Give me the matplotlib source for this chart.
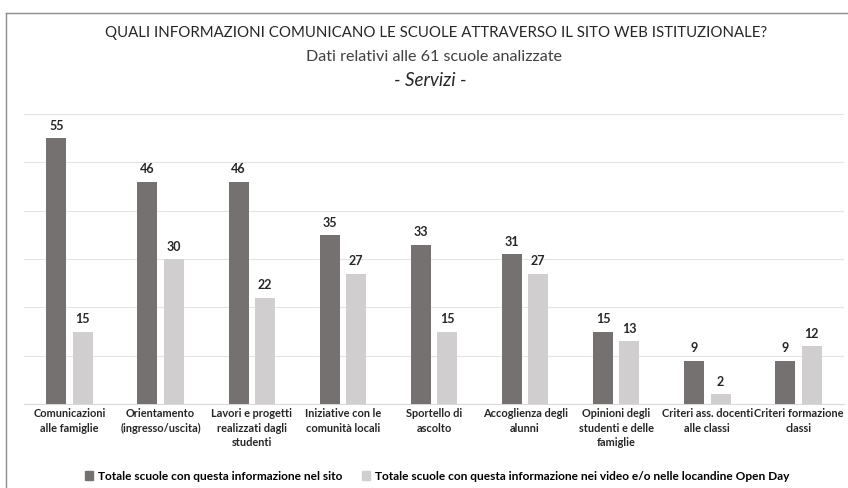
import matplotlib
matplotlib.use("Agg")
import matplotlib.pyplot as plt
from matplotlib.lines import Line2D
from matplotlib.patches import Patch
import numpy as np

categories = [
    "Comunicazioni\nalle famiglie",
    "Orientamento\n(ingresso/uscita)",
    "Lavori e progetti\nrealizzati dagli\nstudenti",
    "Iniziative con le\ncomunità locali",
    "Sportello di\nascolto",
    "Accoglienza degli\nalunni",
    "Opinioni degli\nstudenti e delle\nfamiglie",
    "Criteri ass. docenti\nalle classi",
    "Criteri formazione\nclassi",
]
sito = [55, 46, 46, 35, 33, 31, 15, 9, 9]
openday = [15, 30, 22, 27, 15, 27, 13, 2, 12]
series_names = [
    "Totale scuole con questa informazione nel sito",
    "Totale scuole con questa informazione nei video e/o nelle locandine Open Day",
]

plt.rcParams['font.family'] = ['Lato', 'DejaVu Sans']

W, H = 848, 488
fig = plt.figure(figsize=(W / 100, H / 100), dpi=100)
ax = fig.add_axes([24 / W, 1 - 404 / H, (844 - 24) / W, (404 - 114) / H])

dark = "#767171"
light = "#D0CECE"
x = np.arange(len(categories))
bw = 0.22
off = 0.145
b1 = ax.bar(x - off, sito, bw, color=dark, zorder=3)
b2 = ax.bar(x + off, openday, bw, color=light, zorder=3)

for bars, vals in ((b1, sito), (b2, openday)):
    for r, v in zip(bars, vals):
        ax.annotate(str(v), (r.get_x() + r.get_width() / 2, v), xytext=(0, 4.5),
                    textcoords="offset points", ha="center", va="bottom",
                    fontsize=9, fontweight="bold", color="#262626")

ax.set_xlim(-0.5, len(categories) - 0.5)
ax.set_ylim(0, 60)
ax.set_yticks(np.arange(0, 61, 10))
ax.set_yticklabels([])
ax.tick_params(axis="y", length=0)
ax.grid(axis="y", color="#E3E3E3", linewidth=0.8, zorder=0)
ax.set_xticks(x)
ax.set_xticklabels(categories, fontsize=7.9, fontweight="bold", color="#262626",
                   linespacing=1.4)
ax.tick_params(axis="x", length=0, pad=3)
for s in ("top", "right", "left"):
    ax.spines[s].set_visible(False)
ax.spines["bottom"].set_color("#D9D9D9")

fig.text(436 / W, 1 - 33 / H, "QUALI INFORMAZIONI COMUNICANO LE SCUOLE ATTRAVERSO IL SITO WEB ISTITUZIONALE?",
         ha="center", va="center", fontsize=10.8, color="#262626")
fig.text(434 / W, 1 - 57 / H, "Dati relativi alle 61 scuole analizzate",
         ha="center", va="center", fontsize=11.6, color="#404040")
fig.text(430 / W, 1 - 80 / H, "- Servizi -", ha="center", va="center",
         fontsize=13.5, style="italic", color="#262626")

handles = [Patch(color=dark), Patch(color=light)]
fig.legend(handles, series_names, loc="center", bbox_to_anchor=(437 / W, 1 - 476 / H),
           ncol=2, frameon=False, prop={"weight": "bold", "size": 8.6},
           handlelength=0.7, handleheight=0.7, handletextpad=0.4, columnspacing=1.6)

fig.add_artist(Line2D([5.5 / W, 5.5 / W], [0, 1 - 12.5 / H], transform=fig.transFigure,
                      color="#8C8C8C", linewidth=1.0))
fig.add_artist(Line2D([5.5 / W, 1], [1 - 12.5 / H, 1 - 12.5 / H], transform=fig.transFigure,
                      color="#8C8C8C", linewidth=1.0))

fig.savefig("out.png", dpi=100)
